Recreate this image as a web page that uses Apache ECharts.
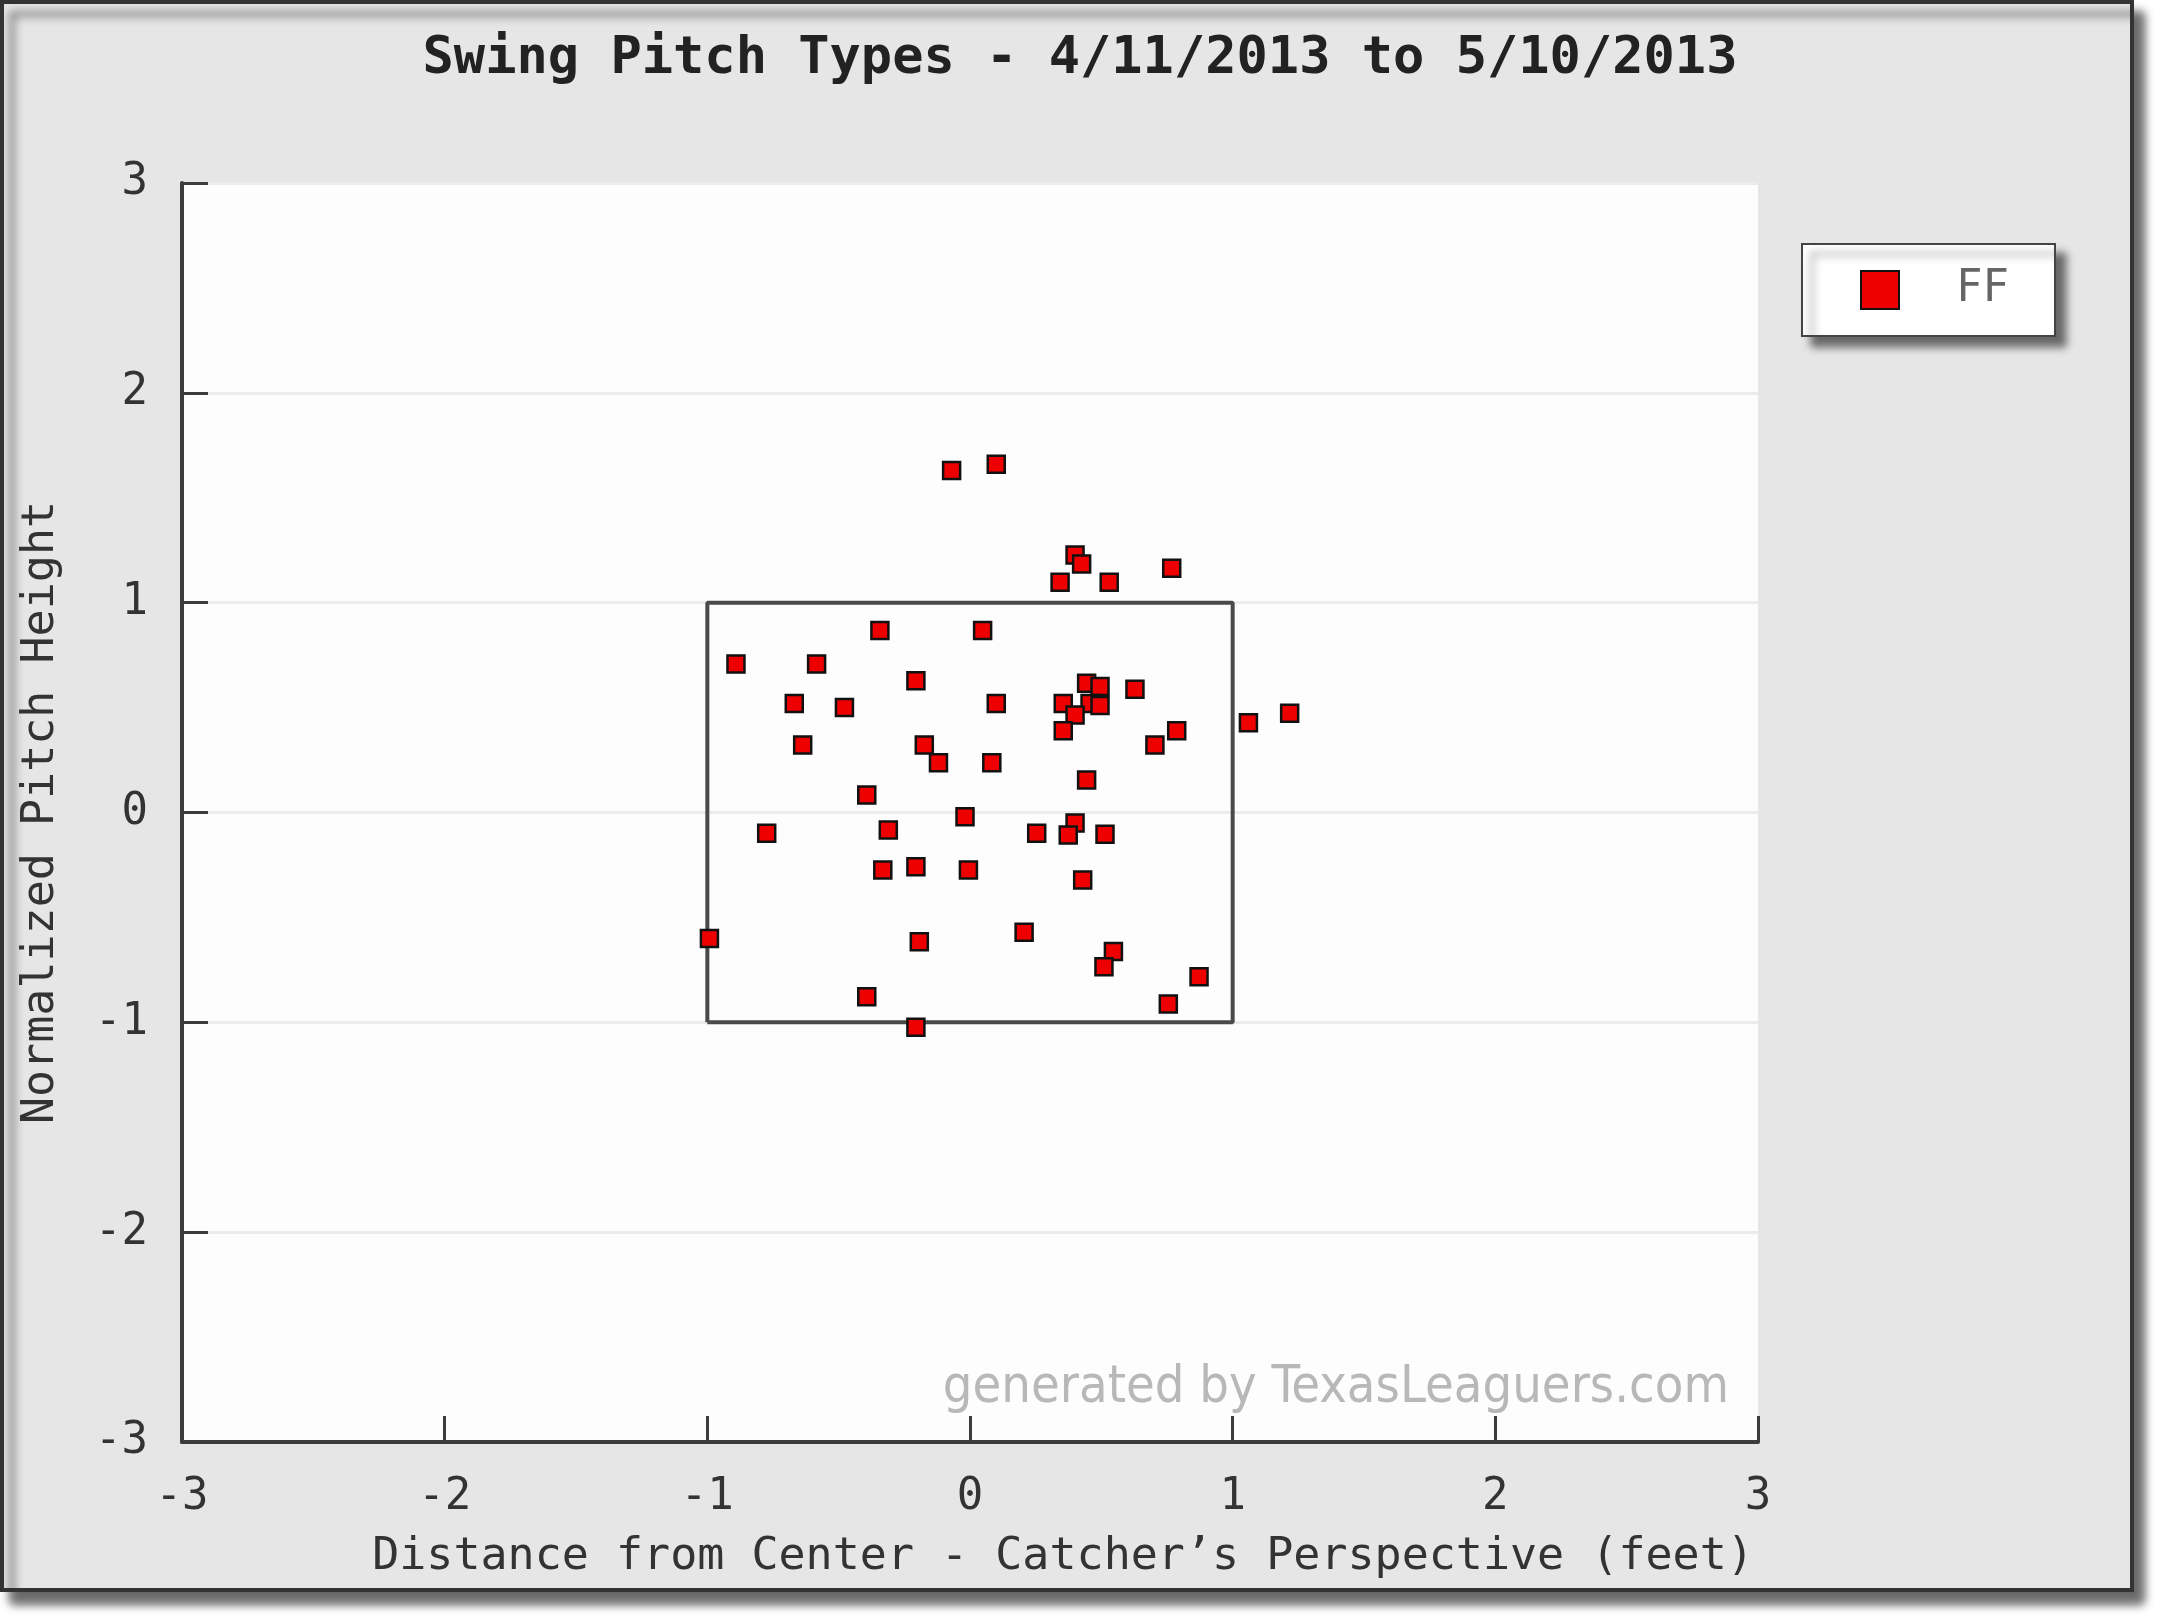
<!DOCTYPE html>
<html>
<head>
<meta charset="utf-8">
<title>Swing Pitch Types</title>
<script src="https://cdn.jsdelivr.net/npm/echarts@6/dist/echarts.min.js"></script>
<style>
  html, body { margin: 0; padding: 0; background: #ffffff; }
  #chart { width: 2160px; height: 1620px; }
</style>
</head>
<body>
<div id="chart"></div>
<script>
// pitch locations, catcher's view (feet)
const pitchX = [-0.07, 0.10, 0.40, 0.425, 0.343, 0.53, 0.768,
  -0.343, 0.048, -0.891, -0.584, -0.206, -0.669, -0.478, 0.10,
  0.444, 0.495, 0.355, 0.457, 0.495, 0.40, 0.355, 0.628, 0.787, 0.704, 1.06, 1.217,
  -0.637, -0.174, -0.12, 0.083, -0.393, 0.444,
  -0.019, -0.774, -0.311, 0.254, 0.40, 0.374, 0.514,
  -0.332, -0.206, -0.006, 0.429,
  -0.992, -0.193, 0.206, 0.546, 0.51, 0.872, 0.755, -0.393, -0.206];
const pitchY = [1.63, 1.66, 1.227, 1.184, 1.097, 1.097, 1.164,
  0.867, 0.867, 0.708, 0.708, 0.628, 0.52, 0.50, 0.52,
  0.616, 0.60, 0.52, 0.52, 0.51, 0.465, 0.39, 0.587, 0.39, 0.322, 0.428, 0.473,
  0.322, 0.322, 0.237, 0.237, 0.083, 0.155,
  -0.02, -0.099, -0.083, -0.099, -0.05, -0.107, -0.104,
  -0.274, -0.258, -0.274, -0.322,
  -0.60, -0.616, -0.571, -0.663, -0.735, -0.783, -0.913, -0.878, -1.024];

// strike zone outline
const zoneX = [-1, -1, 1, 1, -1];
const zoneY = [-1, 1, 1, -1, -1];

const seriesName = 'FF';
const titleText = 'Swing Pitch Types - 4/11/2013 to 5/10/2013';
const xName = 'Distance from Center - Catcher\u2019s Perspective (feet)';
const yName = 'Normalized Pitch Height';

const mono = '"DejaVu Sans Mono", "Liberation Mono", monospace';

const chart = echarts.init(document.getElementById('chart'));

const axisCommon = {
  type: 'value',
  min: -3,
  max: 3,
  interval: 1,
  nameLocation: 'middle',
  axisLine: { show: true, onZero: false, lineStyle: { color: '#3c3c3c', width: 4 } },
  axisTick: { show: true, inside: true, length: 26, lineStyle: { color: '#3c3c3c', width: 3 } },
  axisLabel: { fontFamily: mono, fontSize: 44, color: '#333', margin: 34 }
};

const option = {
  backgroundColor: '#ffffff',
  animation: false,
  title: {
    text: titleText,
    left: 'center',
    top: 28,
    textStyle: { fontFamily: mono, fontSize: 52, fontWeight: 'bold', color: '#222' }
  },
  legend: {
    data: [seriesName],
    left: 1802,
    top: 244,
    orient: 'vertical',
    padding: [24, 46, 24, 58],
    itemWidth: 38,
    itemHeight: 38,
    icon: 'rect',
    backgroundColor: '#ffffff',
    borderColor: '#444',
    borderWidth: 2,
    shadowBlur: 8,
    shadowColor: 'rgba(0,0,0,0.55)',
    shadowOffsetX: 10,
    shadowOffsetY: 10,
    textStyle: { fontFamily: mono, fontSize: 44, color: '#666', padding: [0, 0, 0, 52] }
  },
  grid: {
    left: 182,
    right: 402,
    top: 183,
    bottom: 178,
    show: true,
    backgroundColor: '#fdfdfd',
    borderWidth: 0
  },
  graphic: [
    {
      type: 'rect',
      z: -100,
      shape: { x: 2, y: 2, width: 2130, height: 1588 },
      style: {
        fill: '#e6e6e6',
        stroke: '#333',
        lineWidth: 4,
        shadowBlur: 10,
        shadowOffsetX: 10,
        shadowOffsetY: 12,
        shadowColor: 'rgba(0,0,0,0.6)'
      }
    },
    {
      type: 'text',
      z: 5,
      right: 2160 - 1729,
      top: 1362,
      style: {
        text: 'generated by TexasLeaguers.com',
        fill: '#b8b8b8',
        font: '52px "Liberation Sans Narrow", "DejaVu Sans Condensed", "Liberation Sans", sans-serif'
      }
    }
  ],
  xAxis: Object.assign({}, axisCommon, {
    name: xName,
    nameGap: 93,
    nameTextStyle: { fontFamily: mono, fontSize: 45, color: '#333', padding: [0, 0, 0, 186] },
    splitLine: { show: false }
  }),
  yAxis: Object.assign({}, axisCommon, {
    name: yName,
    nameGap: 118,
    nameTextStyle: { fontFamily: mono, fontSize: 45, color: '#333' },
    splitLine: { show: true, lineStyle: { color: '#ececec', width: 3 } }
  }),
  series: [
    {
      name: 'zone',
      type: 'line',
      data: zoneX.map((x, i) => [x, zoneY[i]]),
      symbol: 'none',
      silent: true,
      z: 1,
      lineStyle: { color: '#4a4a4a', width: 4 }
    },
    {
      name: seriesName,
      type: 'scatter',
      data: pitchX.map((x, i) => [x, pitchY[i]]),
      symbol: 'rect',
      symbolSize: 17,
      z: 3,
      itemStyle: { color: '#ee0000', borderColor: '#111', borderWidth: 2.5, opacity: 1 }
    }
  ]
};

chart.setOption(option);
</script>
</body>
</html>
